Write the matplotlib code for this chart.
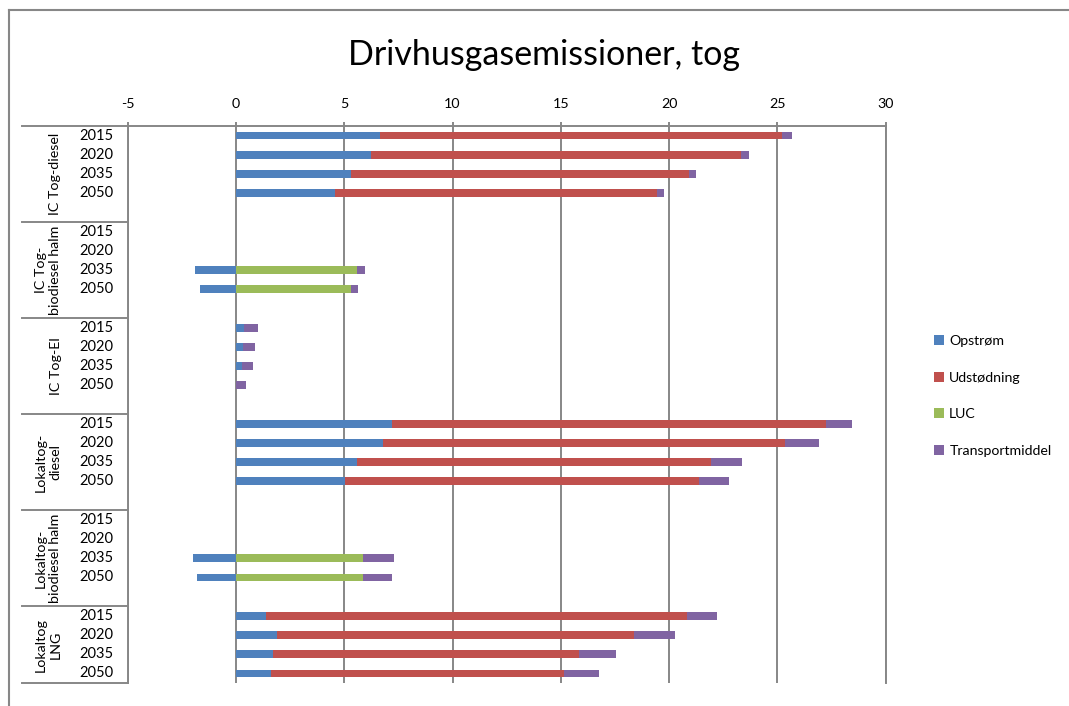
import matplotlib
matplotlib.use("Agg")
import matplotlib.pyplot as plt
from matplotlib.patches import Patch
from matplotlib.lines import Line2D
from matplotlib.transforms import blended_transform_factory
import numpy as np

plt.rcParams['font.family'] = ['Lato', 'DejaVu Sans']

title = "Drivhusgasemissioner, tog"
groups = ["IC Tog-diesel", "IC Tog-\nbiodiesel halm", "IC Tog-El",
          "Lokaltog-\ndiesel", "Lokaltog-\nbiodiesel halm", "Lokaltog\nLNG"]
years = ["2015", "2020", "2035", "2050"]
series_names = ["Opstrøm", "Udstødning", "LUC", "Transportmiddel"]
colors = ["#4F81BD", "#C0504D", "#9BBB59", "#8064A2"]

opstrom = [6.65, 6.25, 5.31, 4.58,
           0, 0, -1.88, -1.65,
           0.37, 0.31, 0.26, 0,
           7.20, 6.79, 5.60, 5.05,
           0, 0, -1.98, -1.81,
           1.39, 1.88, 1.71, 1.60]
udstodning = [18.55, 17.07, 15.60, 14.85,
              0, 0, 0, 0,
              0, 0, 0, 0,
              20.05, 18.56, 16.33, 16.32,
              0, 0, 0, 0,
              19.42, 16.50, 14.15, 13.55]
luc = [0, 0, 0, 0,
       0, 0, 5.60, 5.32,
       0, 0, 0, 0,
       0, 0, 0, 0,
       0, 0, 5.85, 5.85,
       0, 0, 0, 0]
transport = [0.46, 0.38, 0.35, 0.34,
             0, 0, 0.34, 0.33,
             0.65, 0.58, 0.53, 0.48,
             1.19, 1.59, 1.42, 1.38,
             0, 0, 1.45, 1.34,
             1.41, 1.88, 1.70, 1.59]
xticks = [-5, 0, 5, 10, 15, 20, 25, 30]

W, H = 1069, 706
fig = plt.figure(figsize=(W / 100, H / 100), dpi=100)
fig.patch.set_facecolor("white")

ax_left, ax_right, ax_top, ax_bottom = 127.7, 885.7, 126, 683
ax = fig.add_axes([ax_left / W, 1 - ax_bottom / H, (ax_right - ax_left) / W, (ax_bottom - ax_top) / H])

# y slots: 5 per group (last slot blank), last group has 4
ng, ny = len(groups), len(years)
ypos = np.array([g * (ny + 1) + j for g in range(ng) for j in range(ny)], dtype=float)
nslots = ng * (ny + 1) - 1

op = np.array(opstrom)
ud = np.array(udstodning)
lu = np.array(luc)
tr = np.array(transport)
bh = 0.4
pos_base = np.maximum(op, 0)
ax.barh(ypos, op, height=bh, color=colors[0], linewidth=0)
ax.barh(ypos, ud, left=pos_base, height=bh, color=colors[1], linewidth=0)
ax.barh(ypos, lu, left=pos_base + ud, height=bh, color=colors[2], linewidth=0)
ax.barh(ypos, tr, left=pos_base + ud + lu, height=bh, color=colors[3], linewidth=0)

gray = "#878787"
ax.set_xlim(xticks[0], xticks[-1])
ax.set_ylim(nslots - 0.5, -0.5)
ax.xaxis.tick_top()
ax.set_xticks(xticks)
ax.set_xticklabels([str(t) for t in xticks])
ax.tick_params(axis='x', direction='out', length=3, width=1.4, color=gray, pad=8.5, labelsize=10.3)
ax.set_yticks([])
ax.grid(axis='x', color=gray, linewidth=1.4)
ax.set_axisbelow(True)
ax.spines["bottom"].set_visible(False)
for s in ["top", "left", "right"]:
    ax.spines[s].set_color(gray)
    ax.spines[s].set_linewidth(1.4)

# category table to the left
tb = blended_transform_factory(fig.transFigure, ax.transData)
x0f, x1f = 22 / W, ax_left / W
bounds = [g * (ny + 1) - 0.5 for g in range(ng)] + [nslots - 0.5]
for b in bounds:
    fig.add_artist(Line2D([x0f, x1f], [b, b], transform=tb, color=gray, linewidth=1.4))
for y, lab in zip(ypos, years * ng):
    fig.text(96 / W, y, lab, transform=tb, ha='center', va='center', fontsize=10.5)
for g, name in enumerate(groups):
    yc = (bounds[g] + bounds[g + 1]) / 2
    fig.text(61.5 / W, yc, name, transform=tb, ha='right', va='center', rotation=90,
             fontsize=10.3, multialignment='center', linespacing=1.25)

# chart frame
fig.add_artist(Line2D([8.5 / W, 8.5 / W], [0, 1 - 9.5 / H], color=gray, linewidth=1.5))
fig.add_artist(Line2D([8.5 / W, 1068 / W], [1 - 9.5 / H, 1 - 9.5 / H], color=gray, linewidth=1.5))

fig.text(544.5 / W, 1 - 65 / H, title, ha='center', va='baseline', fontsize=24.5)

handles = [Patch(facecolor=c, edgecolor='none') for c in colors]
fig.legend(handles, series_names, loc='center left', bbox_to_anchor=(928 / W, 1 - 396 / H),
           frameon=False, fontsize=10.2, handlelength=0.7, handleheight=0.7,
           handletextpad=0.4, labelspacing=1.75, borderaxespad=0)

fig.savefig("out.png", dpi=100)
